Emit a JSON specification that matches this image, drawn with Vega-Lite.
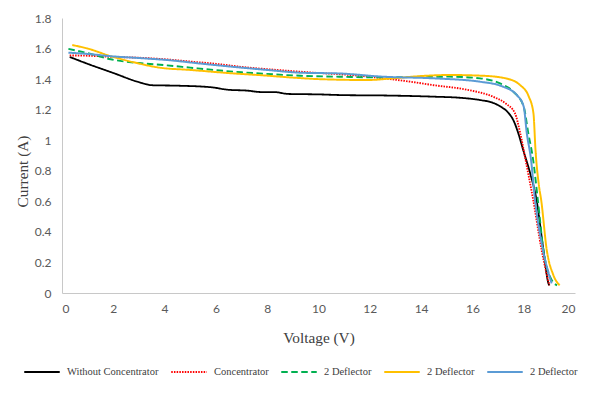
{
  "$schema": "https://vega.github.io/schema/vega-lite/v6.json",
  "autosize": "none",
  "width": 513,
  "height": 275,
  "padding": {"left": 62, "top": 18, "right": 17, "bottom": 100},
  "background": "white",
  "config": {"view": {"stroke": null}},
  "data": {"values": [
    {"s":"Without Concentrator","v":0.3,"i":1.545},
    {"s":"Without Concentrator","v":1.0,"i":1.50},
    {"s":"Without Concentrator","v":2.0,"i":1.44},
    {"s":"Without Concentrator","v":3.0,"i":1.38},
    {"s":"Without Concentrator","v":3.5,"i":1.36},
    {"s":"Without Concentrator","v":4.5,"i":1.357},
    {"s":"Without Concentrator","v":5.8,"i":1.347},
    {"s":"Without Concentrator","v":6.5,"i":1.33},
    {"s":"Without Concentrator","v":7.2,"i":1.325},
    {"s":"Without Concentrator","v":7.8,"i":1.315},
    {"s":"Without Concentrator","v":8.3,"i":1.315},
    {"s":"Without Concentrator","v":8.8,"i":1.303},
    {"s":"Without Concentrator","v":10.0,"i":1.30},
    {"s":"Without Concentrator","v":11.0,"i":1.295},
    {"s":"Without Concentrator","v":12.5,"i":1.293},
    {"s":"Without Concentrator","v":14.5,"i":1.285},
    {"s":"Without Concentrator","v":15.5,"i":1.278},
    {"s":"Without Concentrator","v":16.3,"i":1.263},
    {"s":"Without Concentrator","v":16.8,"i":1.245},
    {"s":"Without Concentrator","v":17.1,"i":1.22},
    {"s":"Without Concentrator","v":17.4,"i":1.18},
    {"s":"Without Concentrator","v":17.6,"i":1.13},
    {"s":"Without Concentrator","v":17.8,"i":1.04},
    {"s":"Without Concentrator","v":17.98,"i":0.936},
    {"s":"Without Concentrator","v":18.25,"i":0.785},
    {"s":"Without Concentrator","v":18.5,"i":0.61},
    {"s":"Without Concentrator","v":18.77,"i":0.28},
    {"s":"Without Concentrator","v":18.97,"i":0.06},
    {"s":"Without Concentrator","v":19.0,"i":0.05},

    {"s":"Concentrator","v":0.3,"i":1.555},
    {"s":"Concentrator","v":1.0,"i":1.553},
    {"s":"Concentrator","v":2.0,"i":1.545},
    {"s":"Concentrator","v":3.0,"i":1.54},
    {"s":"Concentrator","v":4.0,"i":1.53},
    {"s":"Concentrator","v":5.0,"i":1.515},
    {"s":"Concentrator","v":6.0,"i":1.50},
    {"s":"Concentrator","v":7.0,"i":1.48},
    {"s":"Concentrator","v":8.0,"i":1.465},
    {"s":"Concentrator","v":9.0,"i":1.452},
    {"s":"Concentrator","v":10.0,"i":1.44},
    {"s":"Concentrator","v":11.0,"i":1.43},
    {"s":"Concentrator","v":12.0,"i":1.415},
    {"s":"Concentrator","v":12.8,"i":1.40},
    {"s":"Concentrator","v":13.5,"i":1.385},
    {"s":"Concentrator","v":14.5,"i":1.36},
    {"s":"Concentrator","v":15.8,"i":1.33},
    {"s":"Concentrator","v":16.8,"i":1.285},
    {"s":"Concentrator","v":17.3,"i":1.24},
    {"s":"Concentrator","v":17.66,"i":1.176},
    {"s":"Concentrator","v":17.86,"i":1.05},
    {"s":"Concentrator","v":18.12,"i":0.83},
    {"s":"Concentrator","v":18.37,"i":0.61},
    {"s":"Concentrator","v":18.7,"i":0.28},
    {"s":"Concentrator","v":19.0,"i":0.05},

    {"s":"2 Deflector (green)","v":0.25,"i":1.598},
    {"s":"2 Deflector (green)","v":1.0,"i":1.57},
    {"s":"2 Deflector (green)","v":1.9,"i":1.53},
    {"s":"2 Deflector (green)","v":3.0,"i":1.505},
    {"s":"2 Deflector (green)","v":4.1,"i":1.49},
    {"s":"2 Deflector (green)","v":5.0,"i":1.475},
    {"s":"2 Deflector (green)","v":5.9,"i":1.46},
    {"s":"2 Deflector (green)","v":7.0,"i":1.445},
    {"s":"2 Deflector (green)","v":7.7,"i":1.437},
    {"s":"2 Deflector (green)","v":9.3,"i":1.422},
    {"s":"2 Deflector (green)","v":11.0,"i":1.415},
    {"s":"2 Deflector (green)","v":12.5,"i":1.411},
    {"s":"2 Deflector (green)","v":14.0,"i":1.415},
    {"s":"2 Deflector (green)","v":15.1,"i":1.416},
    {"s":"2 Deflector (green)","v":16.3,"i":1.405},
    {"s":"2 Deflector (green)","v":17.1,"i":1.37},
    {"s":"2 Deflector (green)","v":17.6,"i":1.317},
    {"s":"2 Deflector (green)","v":18.0,"i":1.22},
    {"s":"2 Deflector (green)","v":18.18,"i":1.045},
    {"s":"2 Deflector (green)","v":18.37,"i":0.87},
    {"s":"2 Deflector (green)","v":18.55,"i":0.61},
    {"s":"2 Deflector (green)","v":18.77,"i":0.28},
    {"s":"2 Deflector (green)","v":19.09,"i":0.085},
    {"s":"2 Deflector (green)","v":19.3,"i":0.05},

    {"s":"2 Deflector (yellow)","v":0.4,"i":1.623},
    {"s":"2 Deflector (yellow)","v":1.0,"i":1.60},
    {"s":"2 Deflector (yellow)","v":1.9,"i":1.55},
    {"s":"2 Deflector (yellow)","v":2.8,"i":1.51},
    {"s":"2 Deflector (yellow)","v":3.8,"i":1.475},
    {"s":"2 Deflector (yellow)","v":5.0,"i":1.46},
    {"s":"2 Deflector (yellow)","v":6.7,"i":1.437},
    {"s":"2 Deflector (yellow)","v":7.8,"i":1.425},
    {"s":"2 Deflector (yellow)","v":8.9,"i":1.411},
    {"s":"2 Deflector (yellow)","v":10.0,"i":1.40},
    {"s":"2 Deflector (yellow)","v":11.9,"i":1.394},
    {"s":"2 Deflector (yellow)","v":12.9,"i":1.405},
    {"s":"2 Deflector (yellow)","v":14.0,"i":1.42},
    {"s":"2 Deflector (yellow)","v":15.1,"i":1.427},
    {"s":"2 Deflector (yellow)","v":16.4,"i":1.422},
    {"s":"2 Deflector (yellow)","v":17.3,"i":1.405},
    {"s":"2 Deflector (yellow)","v":17.86,"i":1.361},
    {"s":"2 Deflector (yellow)","v":18.2,"i":1.285},
    {"s":"2 Deflector (yellow)","v":18.38,"i":1.176},
    {"s":"2 Deflector (yellow)","v":18.46,"i":0.936},
    {"s":"2 Deflector (yellow)","v":18.6,"i":0.696},
    {"s":"2 Deflector (yellow)","v":18.68,"i":0.61},
    {"s":"2 Deflector (yellow)","v":18.9,"i":0.28},
    {"s":"2 Deflector (yellow)","v":19.15,"i":0.12},
    {"s":"2 Deflector (yellow)","v":19.4,"i":0.05},

    {"s":"2 Deflector (blue)","v":0.25,"i":1.573},
    {"s":"2 Deflector (blue)","v":1.0,"i":1.565},
    {"s":"2 Deflector (blue)","v":1.9,"i":1.55},
    {"s":"2 Deflector (blue)","v":3.0,"i":1.538},
    {"s":"2 Deflector (blue)","v":4.1,"i":1.525},
    {"s":"2 Deflector (blue)","v":5.5,"i":1.50},
    {"s":"2 Deflector (blue)","v":6.7,"i":1.48},
    {"s":"2 Deflector (blue)","v":8.0,"i":1.46},
    {"s":"2 Deflector (blue)","v":9.3,"i":1.442},
    {"s":"2 Deflector (blue)","v":10.8,"i":1.437},
    {"s":"2 Deflector (blue)","v":12.5,"i":1.416},
    {"s":"2 Deflector (blue)","v":14.5,"i":1.405},
    {"s":"2 Deflector (blue)","v":16.3,"i":1.383},
    {"s":"2 Deflector (blue)","v":17.2,"i":1.35},
    {"s":"2 Deflector (blue)","v":17.73,"i":1.296},
    {"s":"2 Deflector (blue)","v":18.0,"i":1.22},
    {"s":"2 Deflector (blue)","v":18.12,"i":1.047},
    {"s":"2 Deflector (blue)","v":18.28,"i":0.88},
    {"s":"2 Deflector (blue)","v":18.44,"i":0.61},
    {"s":"2 Deflector (blue)","v":18.7,"i":0.325},
    {"s":"2 Deflector (blue)","v":19.09,"i":0.063}
  ]},
  "mark": {"type": "line", "interpolate": "monotone"},
  "encoding": {
    "x": {
      "field": "v", "type": "quantitative",
      "scale": {"domain": [0, 20], "nice": false},
      "axis": {
        "values": [0,2,4,6,8,10,12,14,16,18,20],
        "title": "Voltage (V)",
        "grid": false, "ticks": false,
        "domainColor": "#C8C8C8", "domainWidth": 1,
        "labelFont": "Lato", "labelFontSize": 12, "labelColor": "#595959",
        "labelPadding": 10,
        "titleFont": "Liberation Serif", "titleFontSize": 15.3, "titleFontWeight": "normal",
        "titleColor": "#404040", "titleY": 44, "titleBaseline": "middle"
      }
    },
    "y": {
      "field": "i", "type": "quantitative",
      "scale": {"domain": [0, 1.8], "nice": false},
      "axis": {
        "values": [0,0.2,0.4,0.6,0.8,1,1.2,1.4,1.6,1.8],
        "labelExpr": "format(datum.value, '~g')",
        "title": "Current (A)",
        "grid": false, "ticks": false,
        "domainColor": "#C8C8C8", "domainWidth": 1,
        "labelFont": "Lato", "labelFontSize": 12, "labelColor": "#595959",
        "labelPadding": 11,
        "titleFont": "Liberation Serif", "titleFontSize": 15.3, "titleFontWeight": "normal",
        "titleColor": "#404040", "titleX": -40, "titleY": 153, "titleAngle": 270,
        "titleBaseline": "middle", "titleAlign": "center"
      }
    },
    "color": {
      "field": "s", "type": "nominal",
      "scale": {
        "domain": ["Without Concentrator","Concentrator","2 Deflector (green)","2 Deflector (yellow)","2 Deflector (blue)"],
        "range": ["#000000","#FF0000","#00B050","#FFC000","#5B9BD5"]
      },
      "legend": {
        "title": null,
        "orient": "none",
        "legendX": -39,
        "legendY": 335,
        "direction": "horizontal",
        "columns": 5,
        "gridAlign": "none",
        "symbolType": "stroke",
        "symbolSize": 1260,
        "symbolStrokeWidth": 2,
        "labelFont": "Liberation Serif",
        "labelFontSize": 10.5,
        "labelColor": "#404040",
        "labelOffset": 6,
        "columnPadding": 8,
        "labelExpr": "substring(datum.label, 0, 11) == '2 Deflector' ? '2 Deflector' : datum.label"
      }
    },
    "strokeDash": {
      "field": "s", "type": "nominal",
      "scale": {
        "domain": ["Without Concentrator","Concentrator","2 Deflector (green)","2 Deflector (yellow)","2 Deflector (blue)"],
        "range": [[1,0],[1.5,1.2],[6.5,3.5],[1,0],[1,0]]
      },
      "legend": null
    },
    "strokeWidth": {
      "field": "s", "type": "nominal",
      "scale": {
        "domain": ["Without Concentrator","Concentrator","2 Deflector (green)","2 Deflector (yellow)","2 Deflector (blue)"],
        "range": [1.8, 2, 2.6, 1.8, 1.8]
      },
      "legend": null
    }
  }
}
